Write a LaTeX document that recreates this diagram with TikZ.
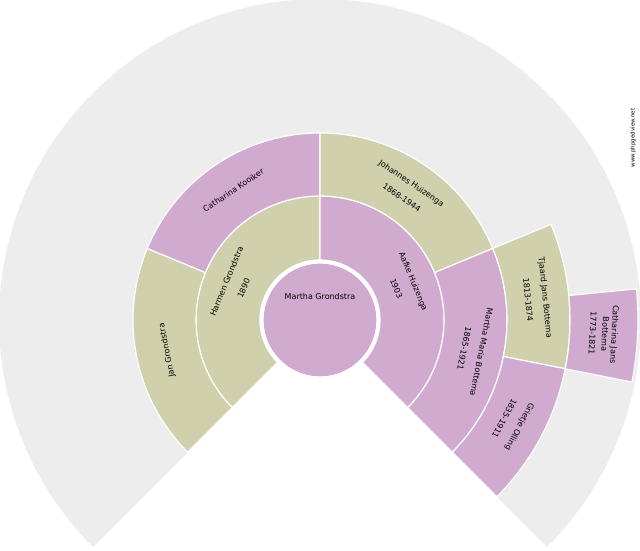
\documentclass[tikz,border=0pt]{standalone}
\usepackage{fontspec}
\setmainfont{DejaVu Sans}
\definecolor{pur}{HTML}{D1ABCF}
\definecolor{olv}{HTML}{D0D0AC}
\definecolor{gry}{HTML}{EDEDED}
\newcommand{\fansect}[5]{\fill[#5,draw=white,line width=1.2pt] (#3:#1pt) arc[start angle=#3,end angle=#4,radius=#1pt] -- (#4:#2pt) arc[start angle=#4,end angle=#3,radius=#2pt] -- cycle;}
\tikzset{lbl/.style={font=\fontsize{8}{9.5}\selectfont,align=center,inner sep=0pt}}
\begin{document}
\begin{tikzpicture}[x=1pt,y=1pt]
\useasboundingbox (0,0) rectangle (640,550);
\begin{scope}[shift={(320,230)}]
\begin{scope}
\clip (-320,-230) rectangle (320,320);
\fill[gry] (-45:187pt) arc[start angle=-45,end angle=225,radius=187pt] -- (225:321pt) arc[start angle=225,end angle=-45,radius=321pt] -- cycle;
\end{scope}
% ring 1
\fansect{60}{124}{90}{225}{olv}
\fansect{60}{124}{-45}{90}{pur}
% ring 2
\fansect{124}{187}{157.5}{225}{olv}
\fansect{124}{187}{90}{157.5}{pur}
\fansect{124}{187}{22.5}{90}{olv}
\fansect{124}{187}{-45}{22.5}{pur}
% ring 3
\fansect{187}{250}{-11.25}{22.5}{olv}
\fansect{187}{250}{-45}{-11.25}{pur}
% ring 4
\fansect{250}{318}{-11.25}{5.625}{pur}
\fill[pur,draw=white,line width=1.2pt] (0,0) circle (57pt);
\node[lbl] (c) at (0,23) {Martha Grondstra};
\node[lbl,rotate=67.5] (h) at (157.5:92pt) {Harmen Grondstra\\[9pt]1890};
\node[lbl,rotate=-67.5] (a) at (22.5:92pt) {Aafke Huizenga\\[9pt]1903};
\node[lbl,rotate=101.25] (j) at (191.25:156pt) {Jan Grondstra};
\node[lbl,rotate=33.75] (ck) at (123.75:156pt) {Catharina Kooiker};
\node[lbl,rotate=-33.75] (jh) at (56.25:156pt) {Johannes Huizenga\\[8pt]1868-1944};
\node[lbl,rotate=-101.25] (mm) at (-11.25:156pt) {Martha Maria Bottema\\[8pt]1865-1921};
\node[lbl,rotate=-84.375] (tj) at (5.625:218pt) {Tjaard Jans Bottema\\[8pt]1813-1874};
\node[lbl,rotate=-118.125] (go) at (-28.125:218pt) {Grietje Olling\\[8pt]1835-1911};
\node[lbl,rotate=-92.8] (cj) at (-2.8:284pt) {Catharina Jans\\Bottema\\[3pt]1773-1821};
\end{scope}
\node[font=\fontsize{5.5}{6}\selectfont,rotate=90,inner sep=0pt] (w) at (633,412) {www.phpgedview.net};
\end{tikzpicture}
\end{document}
